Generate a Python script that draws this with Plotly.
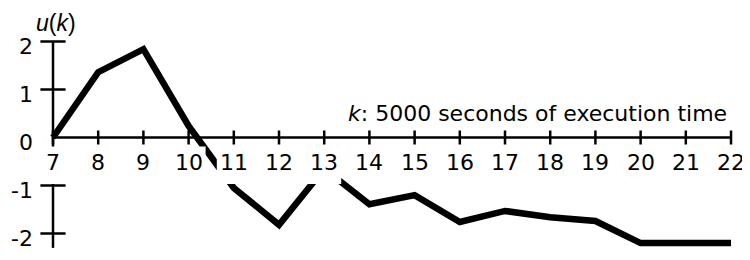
import plotly.graph_objects as go

# ---- data ----
k_values = list(range(7, 23))
u_values = [0.0, 1.36, 1.84, 0.24, -1.05, -1.82, -0.65, -1.39, -1.2, -1.76,
            -1.53, -1.66, -1.74, -2.2, -2.2, -2.2]
x_tick_vals = list(range(7, 23))
x_tick_labels = [str(v) for v in x_tick_vals]
y_tick_vals = [2, 1, 0, -1, -2]
y_tick_labels = ["2", "1", "0", "-1", "-2"]

FONT = "DejaVu Sans, Liberation Sans, Arial, sans-serif"
FONT2 = "Liberation Sans, Arial, Helvetica, sans-serif"
FS = 22
x0 = min(k_values)
x1 = max(k_values)

fig = go.Figure()

# x axis line with ticks
fig.add_trace(go.Scatter(x=[x0, x1], y=[0, 0], mode="lines",
                         line=dict(color="black", width=2.5), hoverinfo="skip"))
fig.add_trace(go.Scatter(x=x_tick_vals, y=[0] * len(x_tick_vals), mode="markers",
                         marker=dict(symbol="line-ns", size=10,
                                     line=dict(color="black", width=2.5)),
                         hoverinfo="skip"))
# y axis line with ticks
fig.add_trace(go.Scatter(x=[x0, x0], y=[-2.3, max(y_tick_vals)], mode="lines",
                         line=dict(color="black", width=2.5), hoverinfo="skip"))
yt_nz = [v for v in y_tick_vals if v != 0]
fig.add_trace(go.Scatter(x=[x0] * len(yt_nz), y=yt_nz, mode="markers",
                         marker=dict(symbol="line-ew", size=18,
                                     line=dict(color="black", width=2.5)),
                         hoverinfo="skip"))
# data line
fig.add_trace(go.Scatter(x=k_values, y=u_values, mode="lines",
                         line=dict(color="black", width=6.5), hoverinfo="skip"))

# opaque white boxes behind the x tick labels (they mask curve and y axis)
shapes = []
for v in x_tick_vals:
    shapes.append(dict(type="rect", layer="above",
                       xref="x", yref="y",
                       xsizemode="pixel", xanchor=v, x0=-17, x1=17,
                       ysizemode="pixel", yanchor=0, y0=-9, y1=-46.5,
                       fillcolor="white", line=dict(width=0)))

annotations = []
for v, lab in zip(x_tick_vals, x_tick_labels):
    annotations.append(dict(x=v, y=0, xref="x", yref="y", text=lab,
                            showarrow=False, xanchor="center", yanchor="middle",
                            yshift=-24.5,
                            font=dict(family=FONT, size=FS, color="black")))
for v, lab in zip(y_tick_vals, y_tick_labels):
    annotations.append(dict(x=x0, y=v, xref="x", yref="y", text=lab,
                            showarrow=False, xanchor="right", yanchor="middle",
                            xshift=-18, yshift=-5,
                            font=dict(family=FONT, size=FS, color="black")))
annotations.append(dict(x=x0, y=max(y_tick_vals), xref="x", yref="y",
                        text="<i>u</i>(<i>k</i>)", showarrow=False,
                        xanchor="center", yanchor="middle", xshift=3, yshift=18.5,
                        font=dict(family=FONT2, size=23, color="black")))
annotations.append(dict(x=x1, y=0, xref="x", yref="y",
                        text="<i>k</i>: 5000 seconds of execution time",
                        showarrow=False, xanchor="right", yanchor="middle",
                        xshift=-2, yshift=24.5,
                        font=dict(family=FONT, size=FS, color="black")))

# the page body adds an 8px margin, so the figure is 742x252 and the
# axis ranges are set so the drawing lands where the reference has it
fig.update_layout(
    width=742, height=252,
    margin=dict(l=0, r=0, t=0, b=0),
    paper_bgcolor="white", plot_bgcolor="white",
    showlegend=False,
    xaxis=dict(range=[6.0044, 22.42], visible=False, fixedrange=True),
    yaxis=dict(range=[-2.552, 2.698], visible=False, fixedrange=True),
    annotations=annotations,
    shapes=shapes,
)

fig.write_html("out.html")
